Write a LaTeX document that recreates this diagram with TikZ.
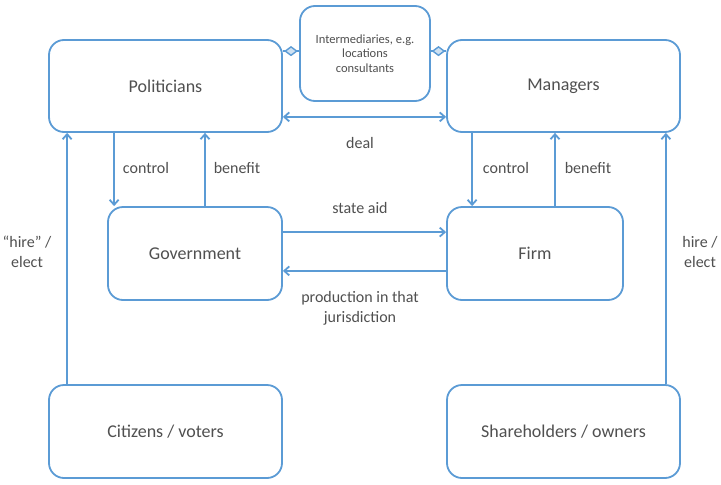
\documentclass[tikz,border=0pt]{standalone}
\usepackage{fontspec}
\setmainfont{Carlito}
\usetikzlibrary{arrows.meta,shapes.geometric,calc}
\definecolor{lineblue}{RGB}{91,155,213}
\definecolor{txtgray}{RGB}{80,80,80}
\begin{document}
\begin{tikzpicture}[x=1pt,y=-1pt,
  box/.style={draw=lineblue,line width=1.8pt,rounded corners=15pt,inner sep=0pt,
    text=txtgray,font=\fontsize{18}{22}\selectfont,align=center},
  conn/.style={draw=lineblue,line width=1.8pt},
  arr/.style={conn,-{Straight Barb[length=5pt,width=9pt]}},
  darr/.style={conn,{Straight Barb[length=5pt,width=9pt]}-{Straight Barb[length=5pt,width=9pt]}},
  lbl/.style={text=txtgray,font=\fontsize{16}{20}\selectfont,align=center,inner sep=0pt},
  dmd/.style={diamond,draw=lineblue,fill=lineblue!30,line width=1.4pt,inner sep=0pt,
    minimum width=12pt,minimum height=9pt}]
\useasboundingbox (0,0) rectangle (721,485);
\fill[white] (0,0) rectangle (721,485);
\node[box,minimum width=233pt,minimum height=92pt] (pol) at (165.5,86) {Politicians};
\node[box,minimum width=130pt,minimum height=95pt,font=\fontsize{12.5}{14.5}\selectfont] (int) at (365,53.5) {Intermediaries, e.g.\\locations\\consultants};
\node[box,minimum width=233pt,minimum height=92pt] (man) at (563.5,86) {Managers};
\node[box,minimum width=174pt,minimum height=93pt] (gov) at (195,253.5) {Government};
\node[box,minimum width=176pt,minimum height=93pt] (firm) at (535,253.5) {Firm};
\node[box,minimum width=233pt,minimum height=93pt] (cit) at (165.5,431.5) {Citizens / voters};
\node[box,minimum width=233pt,minimum height=93pt] (sh) at (563.5,431.5) {Shareholders / owners};
% intermediaries links
\coordinate (pi) at ([yshift=-12pt]pol.north east);
\coordinate (mi) at ([yshift=-12pt]man.north west);
\draw[conn] (pi) -- (int.west |- pi) coordinate[midway] (d1);
\draw[conn] (int.east |- mi) -- (mi) coordinate[midway] (d2);
\node[dmd] (dm1) at (d1) {};
\node[dmd] (dm2) at (d2) {};
% deal
\draw[darr] ([yshift=16pt]pol.south east) -- ([yshift=16pt]man.south west);
\node[lbl] (deal) at (360,143) {deal};
% control / benefit left
\draw[arr] ([xshift=7pt]gov.north west |- pol.south) -- ([xshift=7pt]gov.north west);
\draw[arr] ([xshift=10pt]gov.north) -- ([xshift=10pt]gov.north |- pol.south);
\node[lbl] (c1) at (146,168) {control};
\node[lbl] (b1) at (237,168) {benefit};
% control / benefit right
\draw[arr] ([xshift=26pt]firm.north west |- man.south) -- ([xshift=26pt]firm.north west);
\draw[arr] ([xshift=20pt]firm.north) -- ([xshift=20pt]firm.north |- man.south);
\node[lbl] (c2) at (506,168) {control};
\node[lbl] (b2) at (588,168) {benefit};
% state aid / production
\draw[arr] ([yshift=-26pt]gov.north east) -- ([yshift=-26pt]gov.north east -| firm.west);
\draw[arr] ([yshift=30pt]firm.south west) -- ([yshift=30pt]firm.south west -| gov.east);
\node[lbl] (sa) at (360,208) {state aid};
\node[lbl] (pr) at (360,308) {production in that\\jurisdiction};
% hire / elect
\draw[arr] ([xshift=19pt]cit.north west) -- ([xshift=19pt]pol.south west);
\draw[arr] ([xshift=-15pt]sh.north east) -- ([xshift=-15pt]man.south east);
\node[lbl] (h1) at (27,252) {“hire” /\\elect};
\node[lbl] (h2) at (700,252) {hire /\\elect};
\end{tikzpicture}
\end{document}
